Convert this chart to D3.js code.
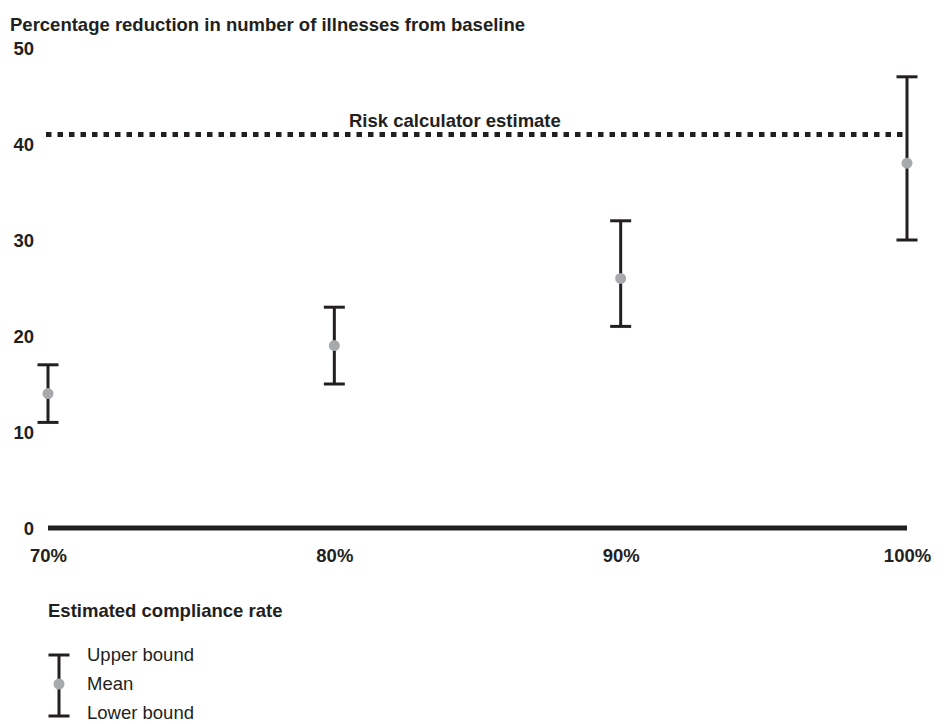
<!DOCTYPE html>
<html>
<head>
<meta charset="utf-8">
<script src="https://cdn.jsdelivr.net/npm/d3@7"></script>
<style>
  body { margin: 0; background: #fff; }
  svg { font-family: "Liberation Sans", Arial, sans-serif; }
  .bold { font-weight: bold; }
</style>
</head>
<body>
<svg id="chart" width="948" height="724"></svg>
<script>
const rates = ['70%', '80%', '90%', '100%'];
const meanValues = [14, 19, 26, 38];
const lowerValues = [11, 15, 21, 30];
const upperValues = [17, 23, 32, 47];
const riskEstimate = 41;
const yTicks = [0, 10, 20, 30, 40, 50];

const ink = '#231f20';
const dotColor = '#a7a9ac';
const fs = '18.5px';

const svg = d3.select('#chart');

const x = d3.scalePoint().domain(rates).range([48, 907]);
const y = d3.scaleLinear().domain([0, 50]).range([528, 48]);

const points = rates.map((r, i) => ({
  rate: r,
  mean: meanValues[i],
  lo: lowerValues[i],
  hi: upperValues[i]
}));

// title
svg.append('text').attr('class', 'bold')
  .attr('x', 10).attr('y', 31)
  .style('font-size', fs)
  .attr('fill', ink)
  .text('Percentage reduction in number of illnesses from baseline');

// y axis labels only
const yAxis = svg.append('g')
  .attr('transform', 'translate(34,0)')
  .call(d3.axisLeft(y).tickValues(yTicks).tickSize(0).tickPadding(0));
yAxis.select('.domain').remove();
yAxis.selectAll('text')
  .attr('class', 'bold')
  .style('font-size', fs)
  .style('font-family', '"Liberation Sans", Arial, sans-serif')
  .attr('fill', ink)
  .attr('dy', '0.35em');

// x axis labels
const xAxis = svg.append('g')
  .attr('transform', 'translate(0,549)')
  .call(d3.axisBottom(x).tickSize(0).tickPadding(0));
xAxis.select('.domain').remove();
xAxis.selectAll('text')
  .attr('class', 'bold')
  .style('font-size', fs)
  .style('font-family', '"Liberation Sans", Arial, sans-serif')
  .attr('fill', ink)
  .attr('dy', '0.72em');

// baseline
svg.append('line')
  .attr('x1', x(rates[0])).attr('x2', x(rates[rates.length - 1]))
  .attr('y1', y(0)).attr('y2', y(0))
  .attr('stroke', ink).attr('stroke-width', 5);

// risk calculator dotted line
svg.append('line')
  .attr('x1', x(rates[0]) - 2).attr('x2', x(rates[rates.length - 1]))
  .attr('y1', y(riskEstimate)).attr('y2', y(riskEstimate))
  .attr('stroke', ink).attr('stroke-width', 5)
  .attr('stroke-dasharray', '5.5,6');

svg.append('text').attr('class', 'bold')
  .attr('x', 349)
  .attr('y', y(riskEstimate) - 7)
  .style('font-size', fs)
  .attr('fill', ink)
  .text('Risk calculator estimate');

// error bars
const bars = svg.selectAll('g.bar').data(points)
  .enter().append('g').attr('class', 'bar');

bars.append('line')
  .attr('x1', d => x(d.rate)).attr('x2', d => x(d.rate))
  .attr('y1', d => y(d.hi)).attr('y2', d => y(d.lo))
  .attr('stroke', ink).attr('stroke-width', 3);

bars.append('line')
  .attr('x1', d => x(d.rate) - 10.5).attr('x2', d => x(d.rate) + 10.5)
  .attr('y1', d => y(d.hi)).attr('y2', d => y(d.hi))
  .attr('stroke', ink).attr('stroke-width', 3);

bars.append('line')
  .attr('x1', d => x(d.rate) - 10.5).attr('x2', d => x(d.rate) + 10.5)
  .attr('y1', d => y(d.lo)).attr('y2', d => y(d.lo))
  .attr('stroke', ink).attr('stroke-width', 3);

bars.append('circle')
  .attr('cx', d => x(d.rate)).attr('cy', d => y(d.mean))
  .attr('r', 5.5)
  .attr('fill', dotColor);

// x axis title
svg.append('text').attr('class', 'bold')
  .attr('x', 48).attr('y', 617)
  .style('font-size', fs)
  .attr('fill', ink)
  .text('Estimated compliance rate');

// legend
const lg = svg.append('g').attr('transform', 'translate(59,0)');
lg.append('line').attr('x1', 0).attr('x2', 0).attr('y1', 655).attr('y2', 716)
  .attr('stroke', ink).attr('stroke-width', 3);
lg.append('line').attr('x1', -10.5).attr('x2', 10.5).attr('y1', 655).attr('y2', 655)
  .attr('stroke', ink).attr('stroke-width', 3);
lg.append('line').attr('x1', -10.5).attr('x2', 10.5).attr('y1', 716).attr('y2', 716)
  .attr('stroke', ink).attr('stroke-width', 3);
lg.append('circle').attr('cx', 0).attr('cy', 684).attr('r', 5.5).attr('fill', dotColor);

const legendLabels = [['Upper bound', 655], ['Mean', 684], ['Lower bound', 713]];
lg.selectAll('text.leg').data(legendLabels).enter().append('text')
  .attr('class', 'leg')
  .attr('x', 28).attr('y', d => d[1])
  .attr('dy', '0.35em')
  .style('font-size', fs)
  .attr('fill', ink)
  .text(d => d[0]);
</script>
</body>
</html>
